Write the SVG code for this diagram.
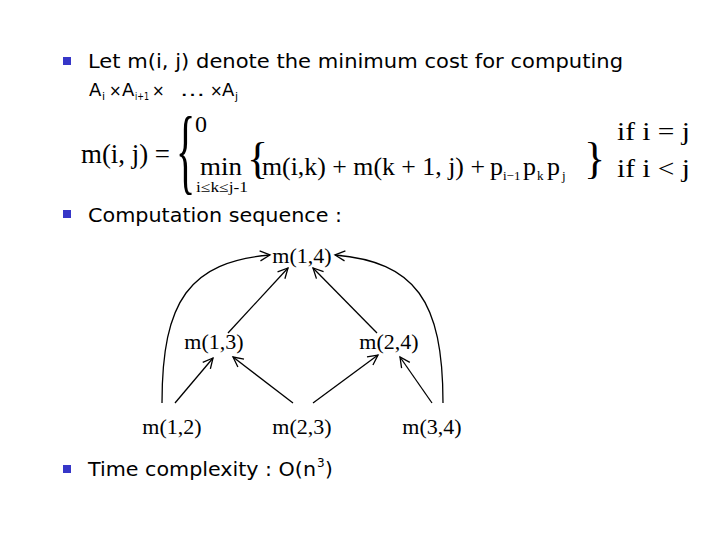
<svg xmlns="http://www.w3.org/2000/svg" width="720" height="540" viewBox="0 0 720 540">
<style>
.sans{font-family:"DejaVu Sans","Liberation Sans",sans-serif;fill:#000}
.serif{font-family:"Liberation Serif","Times New Roman",serif;fill:#000}
.bul{fill:#3636c8}
.edge{fill:none;stroke:#000;stroke-width:1.3}
.node{font-family:"Liberation Serif","Times New Roman",serif;font-size:22px;text-anchor:middle;fill:#000}
</style>
<defs>
<marker id="arr" markerUnits="userSpaceOnUse" markerWidth="14" markerHeight="14" viewBox="-12 -7 14 14" refX="0" refY="0" orient="auto">
<path d="M-10,-5 L0,0 L-10,5" fill="none" stroke="#000" stroke-width="1.3"/>
</marker>
</defs>
<rect width="720" height="540" fill="#fff"/>

<g id="bullet1">
<rect class="bul" x="63" y="57" width="8" height="8"/>
<text class="sans" x="88" y="68" font-size="20" textLength="535" lengthAdjust="spacingAndGlyphs">Let m(i, j) denote the minimum cost for computing</text>
<text class="sans" x="89" y="96" font-size="18">A</text>
<text class="sans" x="102" y="100" font-size="11">i</text>
<text class="sans" x="109" y="96" font-size="15">×</text>
<text class="sans" x="122" y="96" font-size="18">A</text>
<text class="sans" x="135" y="100" font-size="11" textLength="14" lengthAdjust="spacingAndGlyphs">i+1</text>
<text class="sans" x="152" y="96" font-size="15">×</text>
<text class="sans" x="180" y="96" font-size="18" textLength="25" lengthAdjust="spacingAndGlyphs">…</text>
<text class="sans" x="210" y="96" font-size="15">×</text>
<text class="sans" x="222" y="96" font-size="18">A</text>
<text class="sans" x="235" y="100" font-size="11">j</text>
</g>

<g id="formula">
<text class="serif" x="81" y="163" font-size="27" textLength="89" lengthAdjust="spacingAndGlyphs">m(i, j) =</text>
<text class="serif" x="176" y="77" font-size="40" transform="scale(1,2.36)">{</text>
<text class="serif" x="195" y="132" font-size="24">0</text>
<text class="serif" x="617" y="140" font-size="26" textLength="73" lengthAdjust="spacingAndGlyphs">if i = j</text>
<text class="serif" x="200" y="175" font-size="26" textLength="42" lengthAdjust="spacingAndGlyphs">min</text>
<text class="serif" x="196" y="192" font-size="14" textLength="52" lengthAdjust="spacingAndGlyphs">i≤k≤j-1</text>
<text class="serif" x="247" y="173" font-size="44">{</text>
<text class="serif" x="262" y="175" font-size="26" textLength="223" lengthAdjust="spacingAndGlyphs">m(i,k) + m(k + 1, j) +</text>
<text class="serif" y="175" font-size="26"><tspan x="490">p</tspan><tspan x="503" y="180" font-size="13">i−1</tspan><tspan x="523" y="175">p</tspan><tspan x="537" y="180" font-size="13">k</tspan><tspan x="547" y="175">p</tspan><tspan x="562" y="180" font-size="13">j</tspan></text>
<text class="serif" x="584" y="173" font-size="44">}</text>
<text class="serif" x="617" y="177" font-size="26" textLength="73" lengthAdjust="spacingAndGlyphs">if i &lt; j</text>
</g>

<g id="bullet2">
<rect class="bul" x="63" y="210" width="8" height="8"/>
<text class="sans" x="88" y="222" font-size="20" textLength="254" lengthAdjust="spacingAndGlyphs">Computation sequence :</text>
</g>

<g id="connectors">
<line class="edge" x1="175" y1="403" x2="213" y2="358" marker-end="url(#arr)"/>
<line class="edge" x1="293" y1="403" x2="233" y2="357" marker-end="url(#arr)"/>
<line class="edge" x1="313" y1="403" x2="378" y2="355" marker-end="url(#arr)"/>
<line class="edge" x1="432" y1="403" x2="400" y2="357" marker-end="url(#arr)"/>
<line class="edge" x1="228" y1="333" x2="288" y2="268" marker-end="url(#arr)"/>
<line class="edge" x1="377" y1="333" x2="313" y2="268" marker-end="url(#arr)"/>
<path class="edge" d="M162,403 C162,300 190,262 270,255" marker-end="url(#arr)"/>
<path class="edge" d="M443,403 C443,300 415,262 335,255" marker-end="url(#arr)"/>
</g>

<g id="m14"><text class="node" x="302" y="263">m(1,4)</text></g>
<g id="m13"><text class="node" x="214" y="349">m(1,3)</text></g>
<g id="m24"><text class="node" x="389" y="349">m(2,4)</text></g>
<g id="m12"><text class="node" x="172" y="434">m(1,2)</text></g>
<g id="m23"><text class="node" x="302" y="434">m(2,3)</text></g>
<g id="m34"><text class="node" x="432" y="434">m(3,4)</text></g>

<g id="bullet3">
<rect class="bul" x="63" y="465" width="8" height="8"/>
<text class="sans" x="88" y="476" font-size="20" textLength="228" lengthAdjust="spacingAndGlyphs">Time complexity : O(n</text>
<text class="sans" x="317" y="467" font-size="12">3</text>
<text class="sans" x="325" y="476" font-size="20">)</text>
</g>
</svg>
